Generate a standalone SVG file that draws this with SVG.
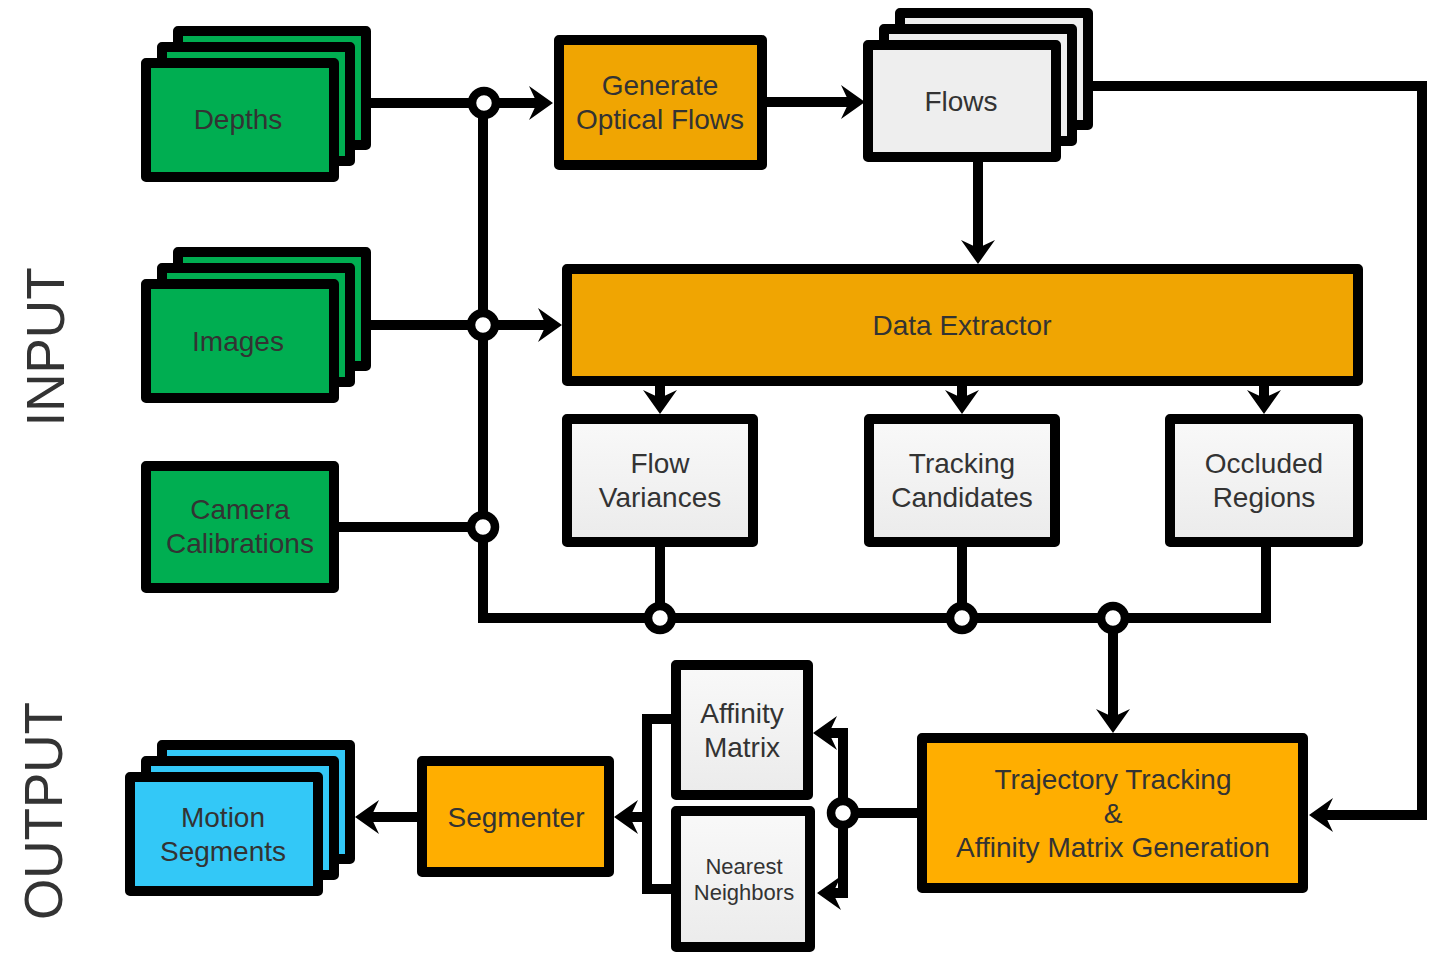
<svg xmlns="http://www.w3.org/2000/svg" width="1448" height="970" viewBox="0 0 1448 970">
<style>
.box{stroke:#000;stroke-width:10;stroke-linejoin:round}
.green{fill:#00AE51}
.org1{fill:#F0A502}
.org2{fill:#FFAE00}
.gray{fill:url(#g)}
.blue{fill:#33C8F7}
.t{font-family:"Liberation Sans",Arial,sans-serif;font-size:28px;fill:#333;text-anchor:middle}
.big{font-family:"Liberation Sans",Arial,sans-serif;font-size:53px;fill:#333;text-anchor:middle}
.c{fill:none;stroke:#000;stroke-width:10;stroke-linejoin:miter}
.a{marker-end:url(#ah)}
.j{fill:#fff;stroke:#000;stroke-width:8.5}
</style>
<defs>
<linearGradient id="g" x1="0" y1="0" x2="0" y2="1">
<stop offset="0" stop-color="#F9F9F9"/>
<stop offset="1" stop-color="#EBEBEB"/>
</linearGradient>
<marker id="ah" viewBox="-24 -17 24 34" refX="-12" refY="0" markerWidth="24" markerHeight="34" markerUnits="userSpaceOnUse" orient="auto">
<path d="M0,0 L-24,-17 L-16,0 L-24,17 Z" fill="#000"/>
</marker>
</defs>

<text class="big" transform="translate(64,347) rotate(-90)">INPUT</text>
<text class="big" transform="translate(62,811) rotate(-90)">OUTPUT</text>

<g id="connectors">
<path class="c a" d="M371 103 H541"/>
<path class="c" d="M483 103 V618 H1266 V547"/>
<path class="c a" d="M371 325 H550"/>
<path class="c" d="M338 527 H483"/>
<path class="c a" d="M767 102 H853"/>
<path class="c a" d="M978 162 V252"/>
<path class="c a" d="M1092 86 H1422 V815 H1321"/>
<path class="c a" d="M660 386 V402"/>
<path class="c a" d="M962 386 V402"/>
<path class="c a" d="M1264 386 V402"/>
<path class="c" d="M660 547 V618"/>
<path class="c" d="M962 547 V618"/>
<path class="c a" d="M1113 618 V721"/>
<path class="c" d="M917 813 H843"/>
<path class="c a" d="M843 813 V733 H825"/>
<path class="c a" d="M843 813 V893 H829"/>
<path class="c" d="M671 719 H647 V889 H671"/>
<path class="c a" d="M647 817 H626"/>
<path class="c a" d="M417 817 H367"/>
<circle class="j" cx="484" cy="103" r="12"/>
<circle class="j" cx="483" cy="325" r="12"/>
<circle class="j" cx="483" cy="527" r="12"/>
<circle class="j" cx="660" cy="618" r="12"/>
<circle class="j" cx="962" cy="618" r="12"/>
<circle class="j" cx="1113" cy="618" r="12"/>
<circle class="j" cx="843" cy="813" r="12"/>
</g>

<g id="depths">
<rect class="box green" x="178" y="31" width="188" height="114"/>
<rect class="box green" x="162" y="47" width="188" height="114"/>
<rect class="box green" x="146" y="63" width="188" height="114"/>
<text class="t" x="238" y="129">Depths</text>
</g>

<g id="images">
<rect class="box green" x="178" y="252" width="188" height="114"/>
<rect class="box green" x="162" y="268" width="188" height="114"/>
<rect class="box green" x="146" y="284" width="188" height="114"/>
<text class="t" x="238" y="351">Images</text>
</g>

<g id="camera">
<rect class="box green" x="146" y="466" width="188" height="122"/>
<text class="t" x="240" y="519">Camera</text>
<text class="t" x="240" y="553">Calibrations</text>
</g>

<g id="generate">
<rect class="box org1" x="559" y="40" width="203" height="125"/>
<text class="t" x="660" y="95">Generate</text>
<text class="t" x="660" y="129">Optical Flows</text>
</g>

<g id="flows">
<rect class="box" fill="#EEEEEE" x="900" y="13" width="188" height="112"/>
<rect class="box" fill="#EEEEEE" x="884" y="29" width="188" height="112"/>
<rect class="box" fill="#EEEEEE" x="868" y="45" width="188" height="112"/>
<text class="t" x="961" y="111">Flows</text>
</g>

<g id="data-extractor">
<rect class="box org1" x="567" y="269" width="791" height="112"/>
<text class="t" x="962" y="335">Data Extractor</text>
</g>

<g id="flow-variances">
<rect class="box gray" x="567" y="419" width="186" height="123"/>
<text class="t" x="660" y="473">Flow</text>
<text class="t" x="660" y="507">Variances</text>
</g>

<g id="tracking-candidates">
<rect class="box gray" x="869" y="419" width="186" height="123"/>
<text class="t" x="962" y="473">Tracking</text>
<text class="t" x="962" y="507">Candidates</text>
</g>

<g id="occluded-regions">
<rect class="box gray" x="1170" y="419" width="188" height="123"/>
<text class="t" x="1264" y="473">Occluded</text>
<text class="t" x="1264" y="507">Regions</text>
</g>

<g id="trajectory">
<rect class="box org2" x="922" y="738" width="381" height="150"/>
<text class="t" x="1113" y="789">Trajectory Tracking</text>
<text class="t" x="1113" y="823">&amp;</text>
<text class="t" x="1113" y="857">Affinity Matrix Generation</text>
</g>

<g id="affinity-matrix">
<rect class="box gray" x="676" y="665" width="132" height="130"/>
<text class="t" x="742" y="723">Affinity</text>
<text class="t" x="742" y="757">Matrix</text>
</g>

<g id="nearest-neighbors">
<rect class="box gray" x="676" y="811" width="134" height="136"/>
<text class="t" x="744" y="874" style="font-size:22px">Nearest</text>
<text class="t" x="744" y="900" style="font-size:22px">Neighbors</text>
</g>

<g id="segmenter">
<rect class="box org2" x="422" y="761" width="187" height="111"/>
<text class="t" x="516" y="827">Segmenter</text>
</g>

<g id="motion-segments">
<rect class="box blue" x="162" y="745" width="188" height="114"/>
<rect class="box blue" x="146" y="761" width="188" height="114"/>
<rect class="box blue" x="130" y="777" width="188" height="114"/>
<text class="t" x="223" y="827">Motion</text>
<text class="t" x="223" y="861">Segments</text>
</g>
</svg>
